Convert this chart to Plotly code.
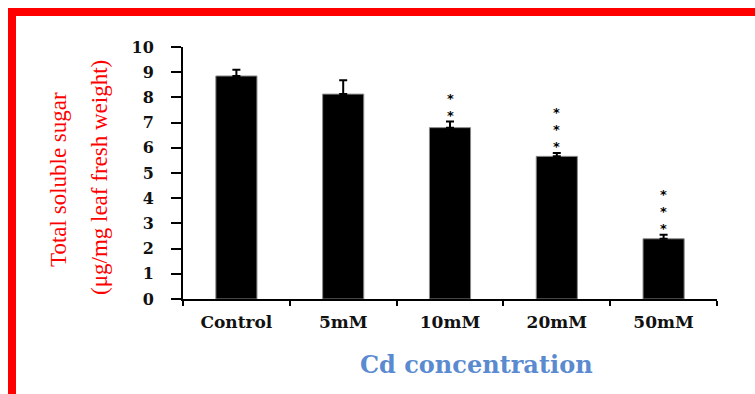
import plotly.graph_objects as go

categories = ["Control", "5mM", "10mM", "20mM", "50mM"]
values = [8.85, 8.13, 6.80, 5.66, 2.39]
errors = [0.25, 0.55, 0.24, 0.13, 0.16]
stars = [0, 0, 2, 3, 3]
y_ticks = [0, 1, 2, 3, 4, 5, 6, 7, 8, 9, 10]

W, H = 755, 394
L, R, T, B = 183, 38, 47, 95
pw, ph = W - L - R, H - T - B

def px_x(x):
    return (x - L) / pw

def px_y(y):
    return (H - B - y) / ph

fig = go.Figure()
fig.add_trace(go.Bar(
    x=categories, y=values,
    marker=dict(color="black", line=dict(color="#8a8a8a", width=1)),
    error_y=dict(type="data", array=errors, arrayminus=[0] * len(errors),
                 symmetric=False, color="black", thickness=2, width=4),
    showlegend=False,
))

annotations = []
for cat, v, e, n in zip(categories, values, errors, stars):
    if n == 0:
        continue
    annotations.append(dict(
        x=cat, y=v + e, xref="x", yref="y",
        text="<br>".join(["*"] * n), showarrow=False,
        font=dict(family="DejaVu Sans", size=13, color="black", weight="bold"),
        xanchor="center", yanchor="bottom", yshift=-3,
    ))

annotations.append(dict(
    x=px_x(58), y=px_y(180), xref="paper", yref="paper",
    text="Total soluble sugar", textangle=-90, showarrow=False,
    font=dict(family="Liberation Serif", size=23, color="#ff0000"),
    xanchor="center", yanchor="middle",
))
annotations.append(dict(
    x=px_x(100), y=px_y(178), xref="paper", yref="paper",
    text="(μg/mg leaf fresh weight)", textangle=-90, showarrow=False,
    font=dict(family="Liberation Serif", size=23, color="#ff0000"),
    xanchor="center", yanchor="middle",
))
annotations.append(dict(
    x=px_x(476), y=px_y(364), xref="paper", yref="paper",
    text="<b>Cd concentration</b>", showarrow=False,
    font=dict(family="DejaVu Serif", size=24, color="#5a8ad0"),
    xanchor="center", yanchor="middle",
))

shapes = [
    dict(type="rect", xref="paper", yref="paper",
         x0=px_x(8), x1=px_x(W + 5), y0=px_y(16), y1=px_y(8),
         fillcolor="#ff0000", line=dict(width=0), layer="above"),
    dict(type="rect", xref="paper", yref="paper",
         x0=px_x(8), x1=px_x(16), y0=px_y(H + 5), y1=px_y(8),
         fillcolor="#ff0000", line=dict(width=0), layer="above"),
]

fig.update_layout(
    width=W, height=H,
    margin=dict(l=L, r=R, t=T, b=B, pad=0),
    paper_bgcolor="white", plot_bgcolor="white",
    bargap=0.615,
    annotations=annotations,
    shapes=shapes,
    xaxis=dict(
        showline=True, linecolor="black", linewidth=2,
        ticks="outside", ticklen=5, tickwidth=1.5, tickcolor="black",
        tickson="boundaries", showgrid=False, zeroline=False,
        tickfont=dict(family="DejaVu Serif", size=17, color="#111111", weight="bold"),
        ticklabelstandoff=7,
    ),
    yaxis=dict(
        range=[0, 10], tickvals=y_ticks,
        showline=True, linecolor="black", linewidth=2,
        ticks="outside", ticklen=10, tickwidth=1.5, tickcolor="black",
        showgrid=False, zeroline=False,
        tickfont=dict(family="DejaVu Serif", size=16, color="#111111", weight="bold"),
        ticklabelstandoff=14,
    ),
)

fig.write_html("out.html")
